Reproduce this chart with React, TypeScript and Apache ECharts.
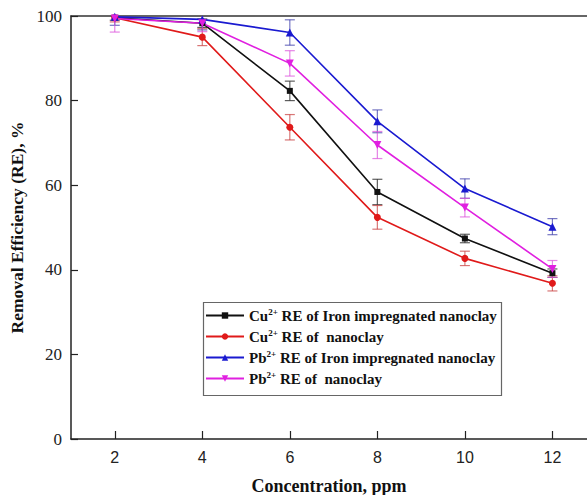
import React, { useEffect, useRef } from "react";
import * as echarts from "echarts";

const xValues = [2, 4, 6, 8, 10, 12];
const xTicks = [2, 4, 6, 8, 10, 12];

const cuIron = [99.6, 98.3, 82.3, 58.4, 47.4, 39.2];
const cuIronErr = [0.6, 1.0, 2.3, 3.0, 1.0, 1.0];
const cuNano = [99.6, 95.0, 73.7, 52.4, 42.7, 36.8];
const cuNanoErr = [1.0, 2.0, 3.0, 2.8, 1.7, 1.8];
const pbIron = [99.8, 99.2, 96.1, 75.1, 59.2, 50.2];
const pbIronErr = [2.0, 2.5, 3.0, 2.7, 2.3, 1.9];
const pbNano = [99.4, 98.3, 88.8, 69.5, 54.7, 40.2];
const pbNanoErr = [3.2, 2.0, 3.0, 3.2, 2.2, 2.0];

const seriesDefs = [
  { id: "cuIron", ion: "Cu", rest: " RE of Iron impregnated nanoclay", values: cuIron, errs: cuIronErr, color: "#111111", errColor: "rgba(40,40,40,0.75)", symbol: "rect", size: 6 },
  { id: "cuNano", ion: "Cu", rest: " RE of  nanoclay", values: cuNano, errs: cuNanoErr, color: "#e01a1a", errColor: "rgba(200,60,60,0.7)", symbol: "circle", size: 7 },
  { id: "pbIron", ion: "Pb", rest: " RE of Iron impregnated nanoclay", values: pbIron, errs: pbIronErr, color: "#1a1ad0", errColor: "rgba(60,60,170,0.7)", symbol: "triangle", size: 8 },
  { id: "pbNano", ion: "Pb", rest: " RE of  nanoclay", values: pbNano, errs: pbNanoErr, color: "#e020e0", errColor: "rgba(220,80,220,0.7)", symbol: "path://M0,0 L10,0 L5,9 Z", size: 8 },
];

export default function App() {
  const ref = useRef<HTMLDivElement>(null);
  useEffect(() => {
    if (!ref.current) return;
    const chart = echarts.init(ref.current, undefined, { renderer: "svg" });
    const series: any[] = [];
    seriesDefs.forEach((s) => {
      series.push({
        type: "custom",
        name: s.id + "_err",
        clip: true,
        z: 1,
        data: xValues.map((x, i) => [x, s.values[i] - s.errs[i], s.values[i] + s.errs[i]]),
        renderItem: (params: any, api: any) => {
          const x = api.value(0);
          const lo = api.coord([x, api.value(1)]);
          const hi = api.coord([x, api.value(2)]);
          const w = 5;
          const style = { stroke: s.errColor, lineWidth: 1.2 };
          return {
            type: "group",
            children: [
              { type: "line", shape: { x1: lo[0], y1: lo[1], x2: hi[0], y2: hi[1] }, style },
              { type: "line", shape: { x1: lo[0] - w, y1: lo[1], x2: lo[0] + w, y2: lo[1] }, style },
              { type: "line", shape: { x1: hi[0] - w, y1: hi[1], x2: hi[0] + w, y2: hi[1] }, style },
            ],
          };
        },
      });
      series.push({
        type: "line",
        name: s.id,
        z: 3,
        data: xValues.map((x, i) => [x, s.values[i]]),
        symbol: s.symbol,
        symbolSize: s.size,
        showSymbol: true,
        lineStyle: { color: s.color, width: 1.6 },
        itemStyle: { color: s.color },
      });
    });
    const nameMap: Record<string, any> = {};
    seriesDefs.forEach((s) => (nameMap[s.id] = s));
    chart.setOption({
      animation: false,
      backgroundColor: "#ffffff",
      grid: { left: 71, right: 0, top: 16, bottom: 56, containLabel: false, outerBoundsMode: "none" },
      xAxis: [
        {
          type: "value",
          min: 1,
          max: 12.79,
          axisLine: { lineStyle: { color: "#222", width: 1.5 } },
          axisTick: { inside: true, length: 8, customValues: xTicks, lineStyle: { color: "#222", width: 1.2 } },
          axisLabel: { customValues: xTicks, fontFamily: "Liberation Sans", fontSize: 16, color: "#222", margin: 10 },
          splitLine: { show: false },
          name: "Concentration, ppm",
          nameLocation: "middle",
          nameGap: 38,
          nameTextStyle: { fontFamily: "Liberation Serif", fontWeight: "bold", fontSize: 18, color: "#111" },
        },
        {
          type: "value",
          position: "top",
          min: 1,
          max: 12.79,
          axisLine: { show: true, onZero: false, lineStyle: { color: "#333", width: 1.5 } },
          axisTick: { show: false },
          axisLabel: { show: false },
          splitLine: { show: false },
        },
      ],
      yAxis: {
        type: "value",
        min: 0,
        max: 100,
        interval: 20,
        axisLine: { show: true, lineStyle: { color: "#222", width: 1.5 } },
        axisTick: { inside: true, length: 7, lineStyle: { color: "#222", width: 1.2 } },
        axisLabel: { fontFamily: "Liberation Serif", fontSize: 17, color: "#222", margin: 9 },
        splitLine: { show: false },
        name: "Removal Efficiency (RE), %",
        nameLocation: "middle",
        nameGap: 34,
        nameTextStyle: { fontFamily: "Liberation Serif", fontWeight: "bold", fontSize: 17.5, color: "#111", padding: [0, 0, 0, 0] },
      },
      legend: {
        data: seriesDefs.map((s) => s.id),
        orient: "vertical",
        left: 205,
        top: 307,
        itemGap: 5,
        itemWidth: 38,
        itemHeight: 8,
        padding: 0,
        formatter: (name: string) => {
          const s = nameMap[name];
          return "{b|" + s.ion + "}{sup|2+}{b|" + s.rest + "}";
        },
        textStyle: {
          fontFamily: "Liberation Serif",
          fontWeight: "bold",
          fontSize: 15,
          color: "#111",
          rich: {
            b: { fontFamily: "Liberation Serif", fontWeight: "bold", fontSize: 15, color: "#111", lineHeight: 17 },
            sup: { fontFamily: "Liberation Serif", fontWeight: "bold", fontSize: 9, color: "#111", verticalAlign: "top", lineHeight: 10 },
          },
        },
      },
      graphic: [
        {
          type: "rect",
          shape: { x: 203.5, y: 302.5, width: 298, height: 93 },
          style: { fill: "none", stroke: "#666", lineWidth: 1.2 },
          z: 10,
        },
      ],
      series,
    });
    return () => chart.dispose();
  }, []);
  return <div ref={ref} style={{ width: 587, height: 495, position: "absolute", left: 0, top: 0 }} />;
}
